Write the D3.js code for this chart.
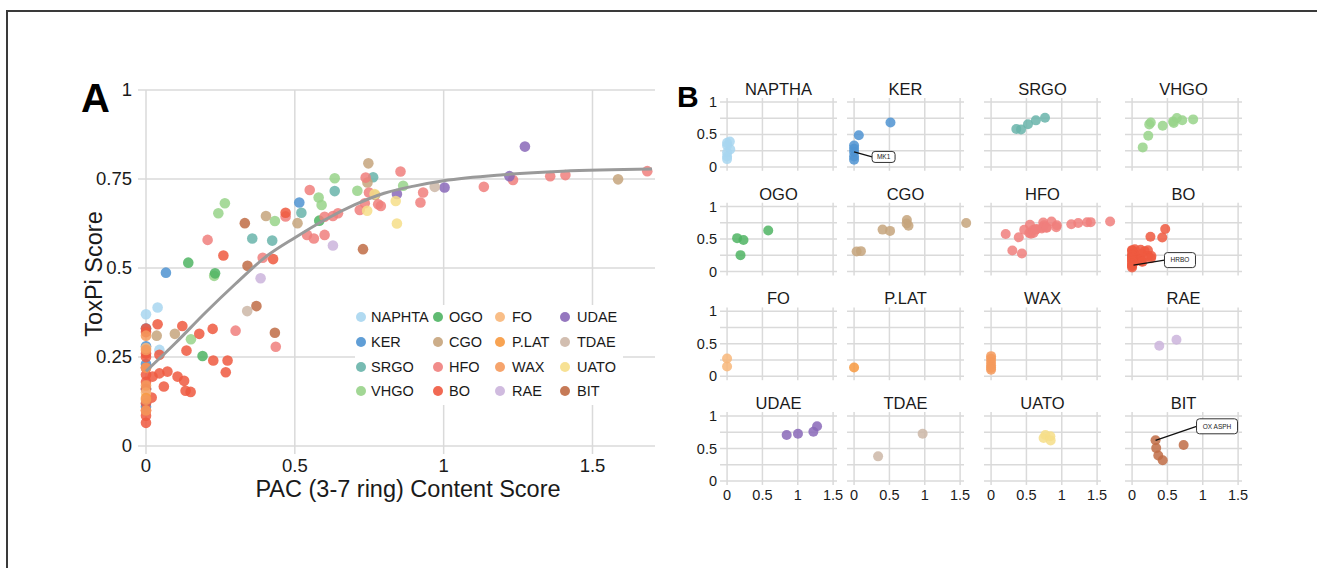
<!DOCTYPE html>
<html>
<head>
<meta charset="utf-8">
<script src="https://cdn.jsdelivr.net/npm/d3@7"></script>
<style>
  body { margin: 0; background: #fff; }
  svg text { font-family: "Liberation Sans", Arial, Helvetica, sans-serif; fill: #1a1a1a; }
</style>
</head>
<body>
<div id="viz"></div>
<script>
// facet titles and legend names (legend spells NAPHTA, facet NAPTHA)
const groups = ["NAPTHA", "KER", "SRGO", "VHGO", "OGO", "CGO", "HFO", "BO",
                "FO", "P.LAT", "WAX", "RAE", "UDAE", "TDAE", "UATO", "BIT"];
const legendNames = ["NAPHTA", "KER", "SRGO", "VHGO", "OGO", "CGO", "HFO", "BO",
                     "FO", "P.LAT", "WAX", "RAE", "UDAE", "TDAE", "UATO", "BIT"];
const groupColors = ["#a8d6f0", "#4f93d1", "#68b4aa", "#98d38a", "#4fb463", "#c6a47c", "#f07f7d", "#ef5940",
                     "#f8b77a", "#f7993f", "#f59a5c", "#cbb4dc", "#8a68b8", "#cdb7a7", "#f6de88", "#c06c45"];

// [PAC content score, ToxPi score]
const naptha = [[0, 0.37], [0.039, 0.389], [0.045, 0.27], [0, 0.33], [0, 0.22], [0, 0.16], [0, 0.12]];
const ker = [[0.067, 0.487], [0.515, 0.684], [0, 0.33], [0, 0.28], [0, 0.23], [0, 0.16], [0, 0.11]];
const srgo = [[0.357, 0.583], [0.424, 0.577], [0.522, 0.655], [0.634, 0.716], [0.763, 0.755]];
const vhgo = [[0.151, 0.30], [0.229, 0.478], [0.243, 0.654], [0.265, 0.682], [0.433, 0.632],
              [0.58, 0.698], [0.59, 0.677], [0.634, 0.752], [0.71, 0.717], [0.864, 0.731]];
const ogo = [[0.142, 0.515], [0.232, 0.485], [0.19, 0.253], [0.582, 0.633]];
const cgo = [[0.036, 0.31], [0.097, 0.315], [0.403, 0.646], [0.509, 0.626], [0.747, 0.794],
             [0.744, 0.74], [0.77, 0.705], [1.586, 0.749]];
const hfo = [[0.207, 0.579], [0.301, 0.324], [0.436, 0.279], [0.392, 0.529], [0.469, 0.645],
             [0.541, 0.593], [0.55, 0.719], [0.564, 0.583], [0.6, 0.593], [0.6, 0.644],
             [0.628, 0.646], [0.645, 0.654], [0.738, 0.754], [0.749, 0.712], [0.735, 0.682],
             [0.718, 0.663], [0.78, 0.679], [0.789, 0.674], [0.855, 0.771], [0.931, 0.712],
             [0.922, 0.684], [1.135, 0.728], [1.233, 0.747], [1.358, 0.758], [1.409, 0.761], [1.684, 0.772]];
const bo = [[0.26, 0.535], [0.427, 0.525], [0.469, 0.655], [0.039, 0.342], [0.122, 0.337],
            [0.179, 0.315], [0.224, 0.329], [0.045, 0.256], [0.136, 0.268], [0.226, 0.24],
            [0.274, 0.24], [0.268, 0.207], [0.022, 0.195], [0.045, 0.204], [0.072, 0.209],
            [0.06, 0.167], [0.106, 0.195], [0.128, 0.183], [0.133, 0.155], [0.15, 0.152],
            [0.019, 0.136], [0, 0.33], [0, 0.32], [0, 0.26], [0, 0.25], [0, 0.22], [0, 0.2],
            [0, 0.18], [0, 0.16], [0, 0.12], [0, 0.1], [0, 0.085], [0, 0.065]];
const fo = [[0, 0.275], [0, 0.15]];
const plat = [[0, 0.135]];
const wax = [[0, 0.31], [0, 0.27], [0, 0.22], [0, 0.17], [0, 0.13], [0, 0.1]];
const rae = [[0.385, 0.471], [0.628, 0.563]];
const udae = [[0.843, 0.708], [1.003, 0.726], [1.221, 0.758], [1.273, 0.841]];
const tdae = [[0.34, 0.379], [0.97, 0.728]];
const uato = [[0.743, 0.661], [0.768, 0.708], [0.839, 0.688], [0.843, 0.625]];
const bit = [[0.332, 0.626], [0.341, 0.506], [0.371, 0.393], [0.433, 0.318], [0.729, 0.553]];

const groupPoints = [naptha, ker, srgo, vhgo, ogo, cgo, hfo, bo, fo, plat, wax, rae, udae, tdae, uato, bit];

// grey fitted curve
const fitCurve = [[0, 0.21], [0.1, 0.29], [0.2, 0.375], [0.3, 0.455], [0.4, 0.53], [0.5, 0.585],
                  [0.6, 0.635], [0.7, 0.677], [0.8, 0.71], [0.9, 0.73], [1.0, 0.745], [1.2, 0.762],
                  [1.4, 0.772], [1.7, 0.778]];

const xTicks = [0, 0.5, 1, 1.5];
const yTicksA = [0, 0.25, 0.5, 0.75, 1];
const yLabelsB = [0, 0.5, 1];

// labelled samples in panel B
const callouts = [
  {group: "KER", point: [0, 0.23], label: "MK1"},
  {group: "BO", point: [0.02, 0.1], label: "HRBO"},
  {group: "BIT", point: [0.332, 0.626], label: "OX ASPH"}
];

const svg = d3.select("#viz")
  .append("svg")
    .attr("width", 1317)
    .attr("height", 568);

// frame
svg.append("path")
  .attr("d", "M6,11H1317M7,11V568")
  .attr("fill", "none")
  .attr("stroke", "#3a3a3a")
  .attr("stroke-width", 2);

// ---------- panel A ----------
const x = d3.scaleLinear().domain([0, 1.71]).range([146, 655]);
const y = d3.scaleLinear().domain([0, 1]).range([446, 90]);
const gridColor = "#dadada";

const gA = svg.append("g");

gA.selectAll(".hgrid")
  .data(yTicksA)
  .join("line")
    .attr("x1", x(0) - 8)
    .attr("x2", x.range()[1])
    .attr("y1", d => y(d))
    .attr("y2", d => y(d))
    .attr("stroke", gridColor)
    .attr("stroke-width", 1.5);

gA.selectAll(".vgrid")
  .data(xTicks)
  .join("line")
    .attr("x1", d => x(d))
    .attr("x2", d => x(d))
    .attr("y1", y(1))
    .attr("y2", y(0) + 8)
    .attr("stroke", gridColor)
    .attr("stroke-width", 1.5);

gA.selectAll(".ylab")
  .data(yTicksA)
  .join("text")
    .attr("x", x(0) - 14)
    .attr("y", d => y(d))
    .attr("dy", "0.35em")
    .attr("text-anchor", "end")
    .style("font-size", "18.5px")
    .text(d => d3.format("")(d));

gA.selectAll(".xlab")
  .data(xTicks)
  .join("text")
    .attr("x", d => x(d))
    .attr("y", y(0) + 26)
    .attr("text-anchor", "middle")
    .style("font-size", "18.5px")
    .text(d => d3.format("")(d));

// legend box hides grid behind it
const legend = gA.append("g");
legend.append("rect")
  .attr("x", 355).attr("y", 305)
  .attr("width", 268).attr("height", 100)
  .attr("fill", "#fff");

const legX = [361, 438, 500, 565];
const legTextX = [371, 449, 512, 577];
const legY = [317, 342, 367, 391];

legendNames.forEach((name, i) => {
  const c = Math.floor(i / 4), r = i % 4;
  legend.append("circle")
    .attr("cx", legX[c])
    .attr("cy", legY[r])
    .attr("r", 5)
    .attr("fill", groupColors[i])
    .attr("opacity", 0.9);
  legend.append("text")
    .attr("x", legTextX[c])
    .attr("y", legY[r])
    .attr("dy", "0.36em")
    .style("font-size", "14.5px")
    .text(name);
});

groupPoints.forEach((pts, i) => {
  gA.append("g")
    .selectAll("circle")
    .data(pts)
    .join("circle")
      .attr("cx", d => x(d[0]))
      .attr("cy", d => y(d[1]))
      .attr("r", 5.3)
      .attr("fill", groupColors[i])
      .attr("opacity", 0.85);
});

gA.append("path")
  .datum(fitCurve)
  .attr("fill", "none")
  .attr("stroke", "#9a9a9a")
  .attr("stroke-width", 3)
  .attr("d", d3.line()
    .x(d => x(d[0]))
    .y(d => y(d[1]))
    .curve(d3.curveMonotoneX));

gA.append("text")
  .attr("x", 408)
  .attr("y", 497)
  .attr("text-anchor", "middle")
  .style("font-size", "23.5px")
  .text("PAC (3-7 ring) Content Score");

gA.append("text")
  .attr("transform", "translate(102,274) rotate(-90)")
  .attr("text-anchor", "middle")
  .style("font-size", "23.5px")
  .text("ToxPi Score");

gA.append("text")
  .attr("x", 81)
  .attr("y", 112)
  .style("font-size", "40px")
  .style("font-weight", "bold")
  .style("fill", "#000")
  .text("A");

// ---------- panel B ----------
const colLeft = [720, 847, 984, 1125];
const rowTop = [98, 202.7, 307.4, 412.1];
const facetW = 117;
const fx = d3.scaleLinear().domain([-0.1, 1.555]).range([0, facetW]);
const fy = d3.scaleLinear().domain([-0.06, 1.06]).range([72.8, 0]);

groups.forEach((name, i) => {
  const r = Math.floor(i / 4), c = i % 4;
  const g = svg.append("g")
    .attr("transform", `translate(${colLeft[c]},${rowTop[r]})`);

  g.selectAll(".h")
    .data(yTicksA)
    .join("line")
      .attr("x1", 0).attr("x2", facetW)
      .attr("y1", d => fy(d)).attr("y2", d => fy(d))
      .attr("stroke", gridColor)
      .attr("stroke-width", 1.5);

  g.selectAll(".v")
    .data(xTicks)
    .join("line")
      .attr("x1", d => fx(d)).attr("x2", d => fx(d))
      .attr("y1", 0).attr("y2", fy.range()[0])
      .attr("stroke", gridColor)
      .attr("stroke-width", 1.5);

  g.append("text")
    .attr("x", facetW / 2)
    .attr("y", -3)
    .attr("text-anchor", "middle")
    .style("font-size", "16.5px")
    .text(name);

  if (c === 0) {
    g.selectAll(".yl")
      .data(yLabelsB)
      .join("text")
        .attr("x", -3)
        .attr("y", d => fy(d))
        .attr("dy", "0.35em")
        .attr("text-anchor", "end")
        .style("font-size", "14.5px")
        .text(d => d3.format("")(d));
  }

  if (r === 3) {
    g.selectAll(".xl")
      .data(xTicks)
      .join("text")
        .attr("x", d => fx(d))
        .attr("y", fy.range()[0] + 15)
        .attr("text-anchor", "middle")
        .style("font-size", "14.5px")
        .text(d => d3.format("")(d));
  }

  g.append("g")
    .selectAll("circle")
    .data(groupPoints[i])
    .join("circle")
      .attr("cx", d => fx(d[0]))
      .attr("cy", d => fy(d[1]))
      .attr("r", 5)
      .attr("fill", groupColors[i])
      .attr("opacity", 0.85);

  callouts.filter(co => co.group === name).forEach(co => {
    const px = fx(co.point[0]), py = fy(co.point[1]);
    let bx, by, bw;
    if (co.label === "MK1") { bx = px + 18; by = py + 5; bw = 23; }
    else if (co.label === "HRBO") { bx = px + 31; by = py - 5; bw = 31; }
    else { bx = px + 41; by = py - 14; bw = 41; }
    const bh = co.label === "MK1" ? 11 : 15;
    g.append("line")
      .attr("x1", px).attr("y1", py)
      .attr("x2", bx).attr("y2", by)
      .attr("stroke", "#111")
      .attr("stroke-width", 1.3);
    g.append("rect")
      .attr("x", bx).attr("y", by - bh / 2)
      .attr("width", bw).attr("height", bh)
      .attr("rx", 3)
      .attr("fill", "#fff")
      .attr("stroke", "#333")
      .attr("stroke-width", 1);
    g.append("text")
      .attr("x", bx + bw / 2)
      .attr("y", by)
      .attr("dy", "0.35em")
      .attr("text-anchor", "middle")
      .style("font-size", "6.5px")
      .text(co.label);
  });
});

svg.append("text")
  .attr("x", 677)
  .attr("y", 107)
  .style("font-size", "30px")
  .style("font-weight", "bold")
  .style("fill", "#000")
  .text("B");
</script>
</body>
</html>
